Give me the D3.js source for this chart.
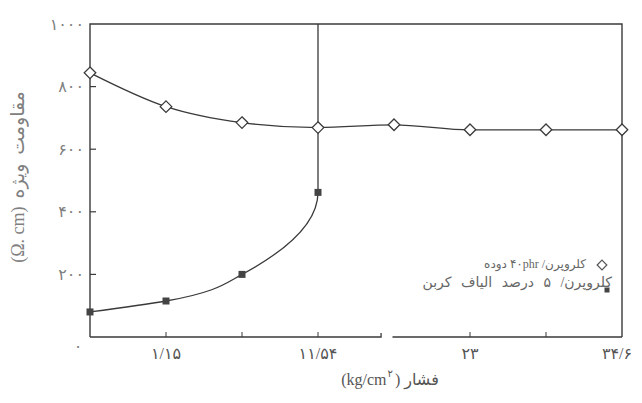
<!DOCTYPE html>
<html>
<head>
<meta charset="utf-8">
<script src="https://cdn.jsdelivr.net/npm/d3@7"></script>
<style>
  html, body { margin: 0; padding: 0; background: #fff; }
  svg { display: block; }
</style>
</head>
<body>
<svg id="chart" width="642" height="403"></svg>
<script>
// ---- data ----
const xIndex = [0, 1, 2, 3, 4, 5, 6, 7];
const blackValues = [844, 736, 685, 669, 678, 662, 662, 662];   // کلروپرن / ۴۰phr دوده
const fiberIndex = [0, 1, 2, 3];
const fiberValues = [80, 115, 200, 462];                          // کلروپرن / ۵ درصد الیاف کربن
const xTickIndex = [1, 3, 5, 7];
const xTickLabels = ["۱/۱۵", "۱۱/۵۴", "۲۳", "۳۴/۶"];
const xMinorTicks = [1, 2, 3, 5, 6];
const yTicks = [0, 200, 400, 600, 800, 1000];
const yTickLabels = ["۰", "۲۰۰", "۴۰۰", "۶۰۰", "۸۰۰", "۱۰۰۰"];
const legendLabels = ["کلروپرن/ ۴۰phr دوده", "کلروپرن/ ۵ درصد الیاف کربن"];
const yTitleWord = "مقاومت ویژه";
const yTitleUnit = "(Ω. cm)";
const xTitleWord = "فشار";
const xTitleUnit = "(kg/cm";
const xTitleSup = "۲";

// ---- layout ----
const M = { left: 90, right: 622, top: 24, bottom: 337 };
const ink = "#3a3a3a";
const grey = "#808080";
const fontFa = "'Liberation Serif', 'DejaVu Sans', serif";

const svg = d3.select("#chart");
const x = d3.scaleLinear().domain([0, 7]).range([M.left, M.right]);
const y = d3.scaleLinear().domain([0, 1000]).range([M.bottom, M.top]);

// frame: left, top, right
svg.append("path")
  .attr("d", `M${M.left},${M.bottom}V${M.top}H${M.right}V${M.bottom}`)
  .attr("fill", "none").attr("stroke", ink).attr("stroke-width", 1.4);

// bottom axis with a break
const brk = [3.83, 3.98];
svg.append("path")
  .attr("d", `M${M.left},${M.bottom}H${x(brk[0])}V${M.bottom - 4}M${x(brk[1])},${M.bottom}H${M.right}`)
  .attr("fill", "none").attr("stroke", ink).attr("stroke-width", 1.3);

// x minor ticks (inward)
svg.append("g").selectAll("line").data(xMinorTicks).join("line")
  .attr("x1", d => x(d)).attr("x2", d => x(d))
  .attr("y1", M.bottom).attr("y2", M.bottom - 5)
  .attr("stroke", ink).attr("stroke-width", 1);

// y ticks (inward)
svg.append("g").selectAll("line").data(yTicks.filter(d => d > 0 && d < 1000)).join("line")
  .attr("x1", M.left).attr("x2", M.left + 6)
  .attr("y1", d => y(d)).attr("y2", d => y(d))
  .attr("stroke", ink).attr("stroke-width", 1.2);

// y tick labels
svg.append("g").selectAll("text").data(yTicks).join("text")
  .attr("x", d => d === 0 ? M.left - 12 : M.left - 6)
  .attr("y", d => d === 0 ? y(d) + 9 : y(d))
  .attr("dy", "0.35em")
  .attr("text-anchor", d => d === 0 ? "middle" : "end")
  .attr("font-family", fontFa).attr("font-size", 16)
  .attr("letter-spacing", 2)
  .attr("fill", grey)
  .text((d, i) => yTickLabels[i]);

// x tick labels
svg.append("g").selectAll("text").data(xTickIndex).join("text")
  .attr("x", (d, i) => x(d) + (i === xTickIndex.length - 1 ? -5 : 0))
  .attr("y", M.bottom + 16)
  .attr("dy", "0.35em")
  .attr("text-anchor", "middle")
  .attr("font-family", fontFa).attr("font-size", 16)
  .attr("letter-spacing", 1.5)
  .attr("fill", "#555")
  .text((d, i) => xTickLabels[i]);

// ---- series ----
const blackData = xIndex.map((d, i) => [d, blackValues[i]]);
const fiberData = fiberIndex.map((d, i) => [d, fiberValues[i]]);
const fiberLineData = fiberData.concat([[fiberIndex[fiberIndex.length - 1], y.domain()[1]]]);

svg.append("path")
  .datum(blackData)
  .attr("d", d3.line().x(d => x(d[0])).y(d => y(d[1])).curve(d3.curveMonotoneX))
  .attr("fill", "none").attr("stroke", ink).attr("stroke-width", 1.3);

svg.append("path")
  .datum(fiberLineData)
  .attr("d", d3.line().x(d => x(d[0])).y(d => y(d[1])).curve(d3.curveMonotoneY))
  .attr("fill", "none").attr("stroke", ink).attr("stroke-width", 1.3);

const diamond = d3.symbol().type(d3.symbolDiamond2).size(85);
svg.append("g").selectAll("path").data(blackData).join("path")
  .attr("transform", d => `translate(${x(d[0])},${y(d[1])})`)
  .attr("d", diamond)
  .attr("fill", "#fff").attr("stroke", ink).attr("stroke-width", 1.3);

svg.append("g").selectAll("rect").data(fiberData).join("rect")
  .attr("x", d => x(d[0]) - 3.5).attr("y", d => y(d[1]) - 3.5)
  .attr("width", 7).attr("height", 7)
  .attr("fill", "#444");

// ---- legend ----
const lg = svg.append("g").attr("font-family", fontFa).attr("fill", "#666");
lg.append("path")
  .attr("transform", "translate(602,265)")
  .attr("d", d3.symbol().type(d3.symbolDiamond2).size(60))
  .attr("fill", "#fff").attr("stroke", "#555").attr("stroke-width", 1.2);
lg.append("text").attr("x", 586).attr("y", 264).attr("dy", "0.35em")
  .attr("font-size", 12)
  .attr("text-anchor", "start").attr("direction", "rtl").text(legendLabels[0]);
lg.append("rect").attr("x", 604.5).attr("y", 287.5).attr("width", 5).attr("height", 5).attr("fill", "#444");
lg.append("text").attr("x", 612).attr("y", 282).attr("dy", "0.35em")
  .attr("font-size", 14)
  .attr("text-anchor", "start").attr("direction", "rtl")
  .attr("word-spacing", 6).text(legendLabels[1]);

// helper: lay out parts visually left-to-right
function layout(g, parts, cx, base) {
  const nodes = parts.map(p => g.append("text").attr("font-size", p.size)
    .attr("word-spacing", p.ws || 0).attr("y", base + p.dy).text(p.t));
  const widths = nodes.map(n => n.node().getComputedTextLength());
  const gaps = parts.map(p => p.gap || 0);
  const total = d3.sum(widths) + d3.sum(gaps);
  let cur = cx - total / 2;
  nodes.forEach((n, i) => { n.attr("x", cur); cur += widths[i] + gaps[i]; });
}

// ---- axis titles ----
const yt = svg.append("g")
  .attr("transform", `translate(24,177) rotate(-90)`)
  .attr("font-family", fontFa).attr("fill", grey);
layout(yt, [
  { t: yTitleUnit, size: 18, dy: 0, gap: 8 },
  { t: yTitleWord, size: 19, dy: 0, ws: 4 }
], 0, 0);

const xt = svg.append("g").attr("font-family", fontFa).attr("fill", "#555");
layout(xt, [
  { t: xTitleUnit, size: 16, dy: 0, gap: 1 },
  { t: xTitleSup, size: 10, dy: -8, gap: 2 },
  { t: ")", size: 16, dy: 0, gap: 4 },
  { t: xTitleWord, size: 16, dy: 0 }
], 390, 385);
</script>
</body>
</html>
